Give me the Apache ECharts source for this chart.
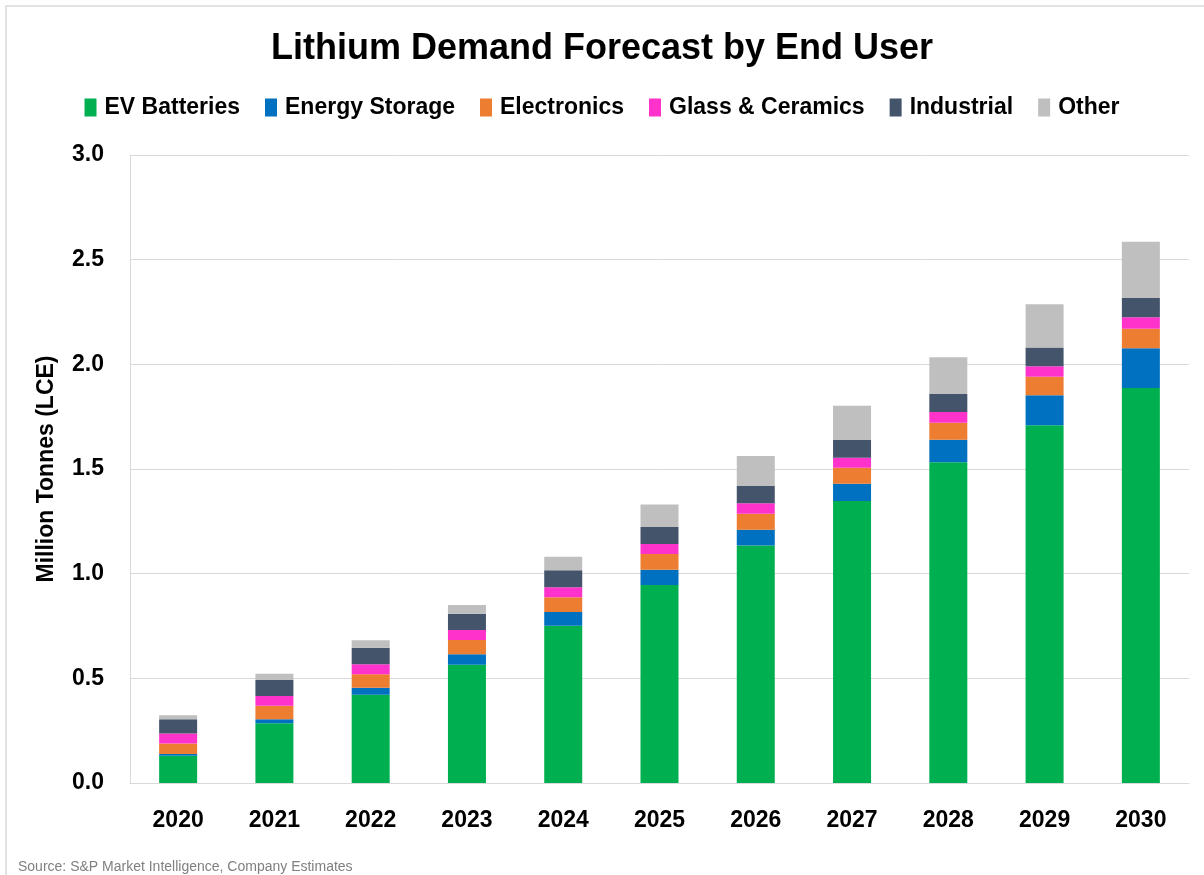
<!DOCTYPE html>
<html>
<head>
<meta charset="utf-8">
<script src="https://cdn.jsdelivr.net/npm/echarts@6/dist/echarts.min.js"></script>
<style>
html, body { margin: 0; padding: 0; background: #fff; }
#chart { width: 1204px; height: 875px; }
</style>
</head>
<body>
<div id="chart"></div>
<script>
// data, million tonnes LCE
const years = ['2020', '2021', '2022', '2023', '2024', '2025', '2026', '2027', '2028', '2029', '2030'];
const evBatteries   = [0.130, 0.285, 0.422, 0.565, 0.751, 0.946, 1.134, 1.347, 1.532, 1.709, 1.887];
const energyStorage = [0.008, 0.019, 0.033, 0.050, 0.066, 0.073, 0.076, 0.083, 0.108, 0.143, 0.190];
const electronics   = [0.051, 0.065, 0.065, 0.068, 0.070, 0.075, 0.076, 0.076, 0.081, 0.089, 0.093];
const glassCeramics = [0.048, 0.047, 0.047, 0.048, 0.048, 0.048, 0.050, 0.048, 0.051, 0.050, 0.055];
const industrial    = [0.068, 0.076, 0.079, 0.078, 0.081, 0.081, 0.083, 0.084, 0.086, 0.090, 0.092];
const other         = [0.019, 0.030, 0.036, 0.041, 0.065, 0.107, 0.143, 0.164, 0.176, 0.206, 0.269];
const yTicks = [0, 0.5, 1.0, 1.5, 2.0, 2.5, 3.0];

const font = "'Liberation Sans', sans-serif";

const seriesDefs = [
  { name: 'EV Batteries', data: evBatteries, color: '#00b050' },
  { name: 'Energy Storage', data: energyStorage, color: '#0070c0' },
  { name: 'Electronics', data: electronics, color: '#ed7d31' },
  { name: 'Glass & Ceramics', data: glassCeramics, color: '#ff33cc' },
  { name: 'Industrial', data: industrial, color: '#44546a' },
  { name: 'Other', data: other, color: '#bfbfbf' }
];

const myChart = echarts.init(document.getElementById('chart'));
const option = {
  animation: false,
  backgroundColor: '#fff',
  textStyle: { fontFamily: font },
  graphic: [{
    type: 'rect',
    shape: { x: 6, y: 6, width: 1210, height: 900 },
    style: { fill: 'none', stroke: '#e2e2e2', lineWidth: 2 },
    silent: true
  }, {
    type: 'text',
    left: 18,
    top: 860,
    style: {
      text: 'Source: S&P Market Intelligence, Company Estimates',
      fill: '#7f7f7f',
      font: "14px 'Liberation Sans', sans-serif"
    }
  }],
  title: {
    text: 'Lithium Demand Forecast by End User',
    left: 'center',
    top: 26,
    textStyle: { fontSize: 36, fontWeight: 'bold', color: '#000', fontFamily: font }
  },
  legend: {
    top: 91,
    left: 'center',
    itemWidth: 12,
    itemHeight: 18,
    itemGap: 25,
    icon: 'rect',
    textStyle: { fontSize: 23, fontWeight: 'bold', color: '#000', fontFamily: font, padding: [0, 0, 0, 3] },
    data: seriesDefs.map(s => s.name)
  },
  grid: { left: 130, right: 15, top: 155, bottom: 92, containLabel: false },
  xAxis: {
    type: 'category',
    data: years,
    axisLine: { lineStyle: { color: '#d9d9d9', width: 1 } },
    axisTick: { show: false },
    axisLabel: { fontSize: 23, fontWeight: 'bold', color: '#000', margin: 26, fontFamily: font }
  },
  yAxis: {
    type: 'value',
    min: yTicks[0],
    max: yTicks[yTicks.length - 1],
    interval: 0.5,
    name: 'Million Tonnes (LCE)',
    nameLocation: 'middle',
    nameGap: 72,
    nameTextStyle: { fontSize: 23, fontWeight: 'bold', color: '#000', fontFamily: font },
    axisLine: { show: true, lineStyle: { color: '#d9d9d9' } },
    axisTick: { show: false },
    splitLine: { lineStyle: { color: '#d9d9d9', width: 1 } },
    axisLabel: {
      fontSize: 23, fontWeight: 'bold', color: '#000', margin: 26, fontFamily: font,
      formatter: v => v.toFixed(1)
    }
  },
  series: seriesDefs.map(s => ({
    name: s.name,
    type: 'bar',
    stack: 'total',
    barWidth: 38,
    data: s.data,
    itemStyle: { color: s.color }
  }))
};
myChart.setOption(option);
window.addEventListener('resize', function () {
  myChart.resize();
});
</script>
</body>
</html>
